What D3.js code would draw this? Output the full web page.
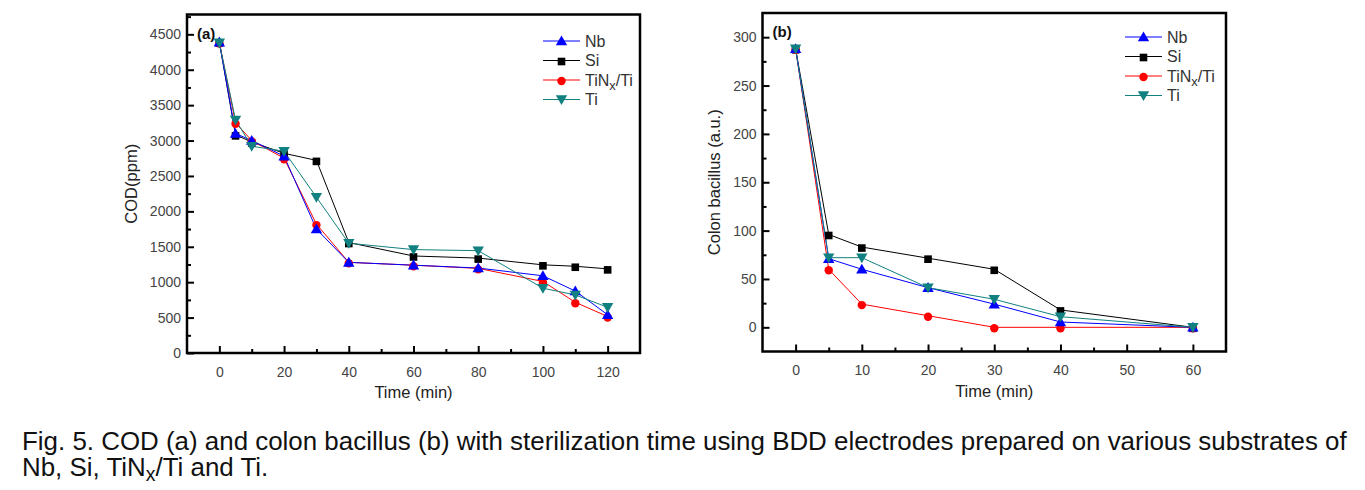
<!DOCTYPE html>
<html><head><meta charset="utf-8">
<script src="https://cdn.jsdelivr.net/npm/d3@7"></script>
<style>
html,body{margin:0;padding:0;background:#fff;}
svg{display:block;font-family:"Liberation Sans",Arial,sans-serif;}
</style></head>
<body>
<svg id="chart" width="1365" height="490"></svg>
<script>
// ---- data ----
const seriesNames = ["Nb", "Si", "TiNx/Ti", "Ti"];
const timeA = [0, 5, 10, 20, 30, 40, 60, 80, 100, 110, 120];
const codNb  = [4390, 3100, 3000, 2780, 1750, 1280, 1240, 1200, 1090, 875, 540];
const codSi  = [4390, 3080, 2980, 2820, 2720, 1560, 1370, 1340, 1245, 1225, 1188];
const codTiN = [4385, 3250, 3000, 2750, 1820, 1280, 1240, 1195, 1010, 716, 515];
const codTi  = [4380, 3290, 2920, 2850, 2200, 1550, 1460, 1445, 915, 820, 645];
const timeB = [0, 5, 10, 20, 30, 40, 60];
const colNb  = [288, 71, 60, 41, 24, 5.5, 0];
const colSi  = [288, 96, 83, 71.5, 60, 18, 0];
const colTiN = [288, 60, 24, 12, 0, 0, 0];
const colTi  = [288, 72, 72, 41, 29, 11, 0];
const tickA_x = [0, 20, 40, 60, 80, 100, 120];
const tickA_y = [0, 500, 1000, 1500, 2000, 2500, 3000, 3500, 4000, 4500];
const tickB_x = [0, 10, 20, 30, 40, 50, 60];
const tickB_y = [0, 50, 100, 150, 200, 250, 300];

const colors = {"Nb": "#0000ff", "Si": "#000000", "TiNx/Ti": "#ff0000", "Ti": "#118080"};
const drawOrder = ["Si", "TiNx/Ti", "Nb", "Ti"];

const svg = d3.select("#chart");

function symbolFor(name) {
  if (name === "Nb") return {type: d3.symbolTriangle, size: 56, rot: 0};
  if (name === "Si") return {type: d3.symbolSquare, size: 58, rot: 0};
  if (name === "TiNx/Ti") return {type: d3.symbolCircle, size: 56, rot: 0};
  return {type: d3.symbolTriangle, size: 56, rot: 180};
}

function addLabel(sel, name, size) {
  if (name === "TiNx/Ti") {
    sel.append("tspan").text("TiN");
    sel.append("tspan").attr("baseline-shift", "-28%").attr("font-size", size * 0.8).text("x");
    sel.append("tspan").text("/Ti");
  } else sel.text(name);
}

const tickFont = 14;

function panel(cfg) {
  const {left, right, top, bottom, xDom, yDom, xTicks, yTicks, xMinor, yMinor, xs, data, label, yTitle, legX, legY} = cfg;
  const x = d3.scaleLinear().domain(xDom).range([left, right]);
  const y = d3.scaleLinear().domain(yDom).range([bottom, top]);
  const g = svg.append("g");

  // minor ticks
  const ax = g.append("g").attr("transform", `translate(0,${bottom})`)
    .call(d3.axisBottom(x).tickValues(xMinor).tickSizeInner(-4).tickSizeOuter(0).tickFormat(""));
  ax.select(".domain").remove();
  ax.selectAll("line").attr("stroke", "#000").attr("stroke-width", 2);
  const ay = g.append("g").attr("transform", `translate(${left},0)`)
    .call(d3.axisLeft(y).tickValues(yMinor).tickSizeInner(-4).tickSizeOuter(0).tickFormat(""));
  ay.select(".domain").remove();
  ay.selectAll("line").attr("stroke", "#000").attr("stroke-width", 2);

  // major ticks
  const bx = g.append("g").attr("transform", `translate(0,${bottom})`)
    .call(d3.axisBottom(x).tickValues(xTicks).tickFormat(d3.format("d")).tickSizeInner(-7).tickSizeOuter(0).tickPadding(14));
  bx.select(".domain").remove();
  bx.selectAll("line").attr("stroke", "#000").attr("stroke-width", 2);
  bx.selectAll("text").attr("font-size", tickFont).attr("fill", "#444")
    .attr("font-family", "Liberation Sans, Arial, sans-serif");
  const by = g.append("g").attr("transform", `translate(${left},0)`)
    .call(d3.axisLeft(y).tickValues(yTicks).tickFormat(d3.format("d")).tickSizeInner(-7).tickSizeOuter(0).tickPadding(6));
  by.select(".domain").remove();
  by.selectAll("line").attr("stroke", "#000").attr("stroke-width", 2);
  by.selectAll("text").attr("font-size", tickFont).attr("fill", "#444")
    .attr("font-family", "Liberation Sans, Arial, sans-serif");

  // series
  const line = d3.line().x(d => x(d[0])).y(d => y(d[1]));
  drawOrder.forEach(name => {
    const pts = xs.map((t, i) => [t, data[name][i]]);
    g.append("path").attr("d", line(pts)).attr("fill", "none")
      .attr("stroke", colors[name]).attr("stroke-width", 1);
  });
  drawOrder.forEach(name => {
    const pts = xs.map((t, i) => [t, data[name][i]]);
    const s = symbolFor(name);
    g.append("g").selectAll("path").data(pts).join("path")
      .attr("d", d3.symbol().type(s.type).size(s.size))
      .attr("transform", d => `translate(${x(d[0])},${y(d[1]) + (s.rot ? -1 : 1)}) rotate(${s.rot})`)
      .attr("fill", colors[name]);
  });

  // frame
  g.append("rect").attr("x", left).attr("y", top).attr("width", right - left).attr("height", bottom - top)
    .attr("fill", "none").attr("stroke", "#000").attr("stroke-width", 2.5);

  // panel label
  g.append("text").attr("x", left + 10).attr("y", top + 24).attr("font-size", 15)
    .attr("font-weight", "bold").attr("fill", "#111").text(label);

  // axis titles
  g.append("text").attr("x", (left + right) / 2).attr("y", bottom + 45).attr("text-anchor", "middle")
    .attr("font-size", 16.5).attr("fill", "#222").text("Time (min)");
  g.append("text").attr("transform", `translate(${cfg.yTitleX},${(top + bottom) / 2}) rotate(-90)`)
    .attr("text-anchor", "middle").attr("font-size", 16.5).attr("fill", "#222").text(yTitle);

  // legend
  seriesNames.forEach((name, i) => {
    const ly = legY + i * 19.5;
    const lg = g.append("g");
    lg.append("line").attr("x1", legX).attr("x2", legX + 37).attr("y1", ly).attr("y2", ly)
      .attr("stroke", colors[name]).attr("stroke-width", 1);
    const s = symbolFor(name);
    lg.append("path").attr("d", d3.symbol().type(s.type).size(s.size)())
      .attr("transform", `translate(${legX + 18.5},${ly + (s.rot ? -1 : 1)}) rotate(${s.rot})`)
      .attr("fill", colors[name]);
    const t = lg.append("text").attr("x", legX + 42).attr("y", ly + 5.5).attr("font-size", 16).attr("fill", "#333");
    addLabel(t, name, 16);
  });
}

panel({
  left: 187, right: 640, top: 14.5, bottom: 353,
  xDom: [-10, 130], yDom: [0, 4780],
  xTicks: tickA_x, yTicks: tickA_y,
  xMinor: [10, 30, 50, 70, 90, 110],
  yMinor: d3.range(250, 4780, 500),
  xs: timeA,
  data: {"Nb": codNb, "Si": codSi, "TiNx/Ti": codTiN, "Ti": codTi},
  label: "(a)", yTitle: "COD(ppm)", yTitleX: 137,
  legX: 543, legY: 41
});

panel({
  left: 762.5, right: 1226, top: 13, bottom: 351.5,
  xDom: [-5, 65], yDom: [-25, 325],
  xTicks: tickB_x, yTicks: tickB_y,
  xMinor: [5, 15, 25, 35, 45, 55],
  yMinor: [25, 75, 125, 175, 225, 275],
  xs: timeB,
  data: {"Nb": colNb, "Si": colSi, "TiNx/Ti": colTiN, "Ti": colTi},
  label: "(b)", yTitle: "Colon bacillus (a.u.)", yTitleX: 720,
  legX: 1125, legY: 37
});

// caption
const cap1 = svg.append("text").attr("x", 22).attr("y", 450).attr("font-size", 20).attr("fill", "#111")
  .text("Fig. 5. COD (a) and colon bacillus (b) with sterilization time using BDD electrodes prepared on various substrates of");
const w = cap1.node().getComputedTextLength();
const fs = 20 * (1325 / w);
cap1.attr("font-size", fs);
const cap2 = svg.append("text").attr("x", 22).attr("y", 476).attr("font-size", fs).attr("fill", "#111");
cap2.append("tspan").text("Nb, Si, TiN");
cap2.append("tspan").attr("baseline-shift", "-25%").attr("font-size", fs * 0.75).text("x");
cap2.append("tspan").text("/Ti and Ti.");
</script>
</body></html>
